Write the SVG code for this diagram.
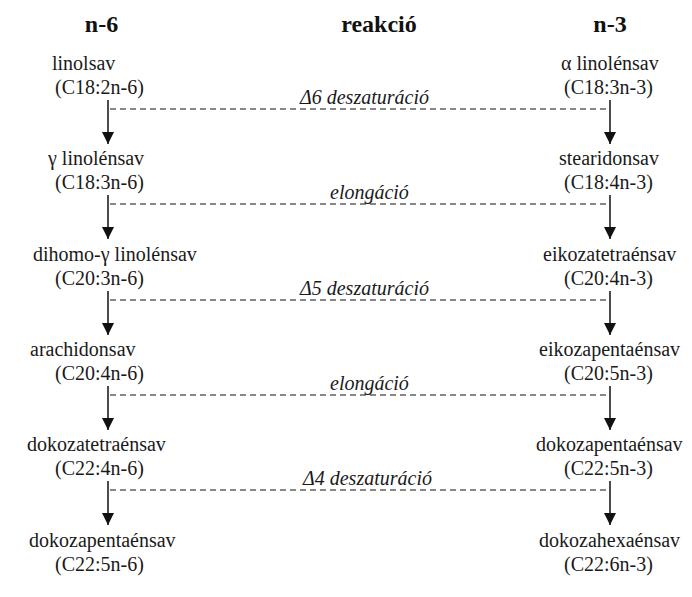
<svg xmlns="http://www.w3.org/2000/svg" width="692" height="597" viewBox="0 0 692 597" font-family="'Liberation Serif', Tinos, 'Times New Roman', 'DejaVu Serif', serif">
<style>
text{font-family:'Liberation Serif', Tinos, 'Times New Roman', 'DejaVu Serif', serif}
.h{font-size:24px;font-weight:bold;fill:#111;text-anchor:middle}
.t{font-size:20px;fill:#1a1a1a}
.r{font-size:20px;font-style:italic;fill:#1a1a1a}
.a{stroke:#111;stroke-width:1.5;fill:none}
.d{stroke:#111;stroke-width:1.2;stroke-dasharray:6 4;fill:none}
</style>
<defs>
<marker id="ah" viewBox="0 0 12 12" refX="12" refY="6" markerWidth="12" markerHeight="12" markerUnits="userSpaceOnUse" orient="auto">
<path d="M0,0 L12,6 L0,12 Z" fill="#111"/>
</marker>
</defs>
<rect width="692" height="597" fill="#fff"/>
<g id="headers">
<text class="h" x="101.5" y="32">n-6</text>
<text class="h" x="379" y="32">reakció</text>
<text class="h" x="610" y="32">n-3</text>
</g>
<g id="n6-0"><text class="t" x="52" y="70">linolsav</text><text class="t" x="55" y="94">(C18:2n-6)</text></g>
<g id="n6-1"><text class="t" x="48" y="165">γ linolénsav</text><text class="t" x="55" y="189">(C18:3n-6)</text></g>
<g id="n6-2"><text class="t" x="33" y="261">dihomo-γ linolénsav</text><text class="t" x="55" y="285">(C20:3n-6)</text></g>
<g id="n6-3"><text class="t" x="30" y="356">arachidonsav</text><text class="t" x="55" y="380">(C20:4n-6)</text></g>
<g id="n6-4"><text class="t" x="27" y="451">dokozatetraénsav</text><text class="t" x="55" y="475">(C22:4n-6)</text></g>
<g id="n6-5"><text class="t" x="29" y="547">dokozapentaénsav</text><text class="t" x="55" y="571">(C22:5n-6)</text></g>
<g id="n3-0"><text class="t" x="561" y="70">α linolénsav</text><text class="t" x="564" y="94">(C18:3n-3)</text></g>
<g id="n3-1"><text class="t" x="559" y="165">stearidonsav</text><text class="t" x="564" y="189">(C18:4n-3)</text></g>
<g id="n3-2"><text class="t" x="543" y="261">eikozatetraénsav</text><text class="t" x="564" y="285">(C20:4n-3)</text></g>
<g id="n3-3"><text class="t" x="539" y="356">eikozapentaénsav</text><text class="t" x="564" y="380">(C20:5n-3)</text></g>
<g id="n3-4"><text class="t" x="536" y="451">dokozapentaénsav</text><text class="t" x="564" y="475">(C22:5n-3)</text></g>
<g id="n3-5"><text class="t" x="539" y="547">dokozahexaénsav</text><text class="t" x="564" y="571">(C22:6n-3)</text></g>
<g id="connectors">
<path class="a" d="M108,100 V144" marker-end="url(#ah)"/>
<path class="a" d="M108,195 V239" marker-end="url(#ah)"/>
<path class="a" d="M108,291 V335" marker-end="url(#ah)"/>
<path class="a" d="M108,386 V430" marker-end="url(#ah)"/>
<path class="a" d="M108,481 V525" marker-end="url(#ah)"/>
<path class="a" d="M610,100 V144" marker-end="url(#ah)"/>
<path class="a" d="M610,195 V239" marker-end="url(#ah)"/>
<path class="a" d="M610,291 V335" marker-end="url(#ah)"/>
<path class="a" d="M610,386 V430" marker-end="url(#ah)"/>
<path class="a" d="M610,481 V525" marker-end="url(#ah)"/>
<path class="d" d="M110,109 H609"/>
<path class="d" d="M110,204 H609"/>
<path class="d" d="M110,300 H609"/>
<path class="d" d="M110,395 H609"/>
<path class="d" d="M110,490 H609"/>
</g>
<g id="reactions">
<text class="r" x="300" y="104">Δ6 deszaturáció</text>
<text class="r" x="330" y="199">elongáció</text>
<text class="r" x="300" y="295">Δ5 deszaturáció</text>
<text class="r" x="330" y="390">elongáció</text>
<text class="r" x="303" y="485">Δ4 deszaturáció</text>
</g>
</svg>
